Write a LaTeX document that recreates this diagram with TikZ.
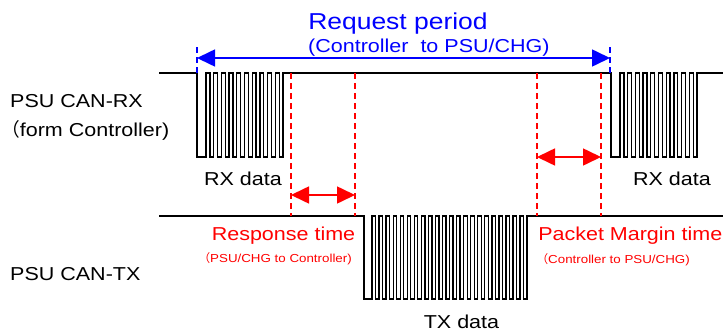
\documentclass[tikz,border=0pt]{standalone}
\usepackage{fontspec}
\setmainfont{Liberation Sans}[FakeStretch=1.15]
\newfontfamily\cjk{Noto Sans CJK SC}
\usetikzlibrary{arrows.meta}
\begin{document}
\begin{tikzpicture}[x=1pt,y=-1pt,
  wave/.style={line width=1.3pt, line join=miter},
  reddash/.style={red, line width=1.4pt, dash pattern=on 6pt off 4pt},
  bluedash/.style={blue, line width=1.6pt, dash pattern=on 6pt off 4pt},
  dimarrow/.style={line width=1.6pt, {Triangle[length=18pt,width=17pt]}-{Triangle[length=18pt,width=17pt]}},
  txt/.style={inner sep=0pt, font=\fontsize{18.7}{20}\selectfont},
  big/.style={inner sep=0pt, font=\fontsize{23}{25}\selectfont},
  small/.style={inner sep=0pt, font=\fontsize{11.6}{13}\selectfont}
]
\useasboundingbox (0,0) rectangle (723,332);
% waveforms
\draw[wave] (159,73) -- (197,73) -- (197,157) -- (206,157)
  \foreach \k in {0,...,9}{ -- ++(0,-84) -- ++(3.85,0) -- ++(0,84) -- ++(3.85,0)}
  -- ++(0,-84) -- (611,73) -- (611,157) -- (620,157)
  \foreach \k in {0,...,9}{ -- ++(0,-84) -- ++(3.85,0) -- ++(0,84) -- ++(3.85,0)}
  -- ++(0,-84) -- (724,73);
\draw[wave] (159,216) -- (364,216) -- (364,299) -- (372,299)
  \foreach \k in {0,...,21}{ -- ++(0,-83) -- ++(3.525,0) -- ++(0,83) -- ++(3.525,0)}
  -- ++(0,-83) -- (724,216);
% blue request period
\coordinate (b1t) at (197,47); \coordinate (b1b) at (197,73);
\coordinate (b2t) at (610,47); \coordinate (b2b) at (610,73);
\coordinate (b1a) at (197,58); \coordinate (b2a) at (610,58);
\draw[bluedash] (b1t) -- (b1b);
\draw[bluedash] (b2t) -- (b2b);
\draw[blue,dimarrow] (b1a) -- (b2a);
% red dashed
\coordinate (r1t) at (291,73); \coordinate (r1b) at (291,216);
\coordinate (r2t) at (355,73); \coordinate (r2b) at (355,216);
\coordinate (r3t) at (537,73); \coordinate (r3b) at (537,216);
\coordinate (r4t) at (601,73); \coordinate (r4b) at (601,216);
\draw[reddash] (r1t) -- (r1b);
\draw[reddash] (r2t) -- (r2b);
\draw[reddash] (r3t) -- (r3b);
\draw[reddash] (r4t) -- (r4b);
\coordinate (ra1) at (291,195); \coordinate (ra2) at (355,195);
\coordinate (pa1) at (537,157); \coordinate (pa2) at (601,157);
\draw[red,dimarrow] (ra1) -- (ra2);
\draw[red,dimarrow] (pa1) -- (pa2);
% texts
\node[big,blue,anchor=base] (title) at (398,29.3) {Request period};
\node[txt,blue,anchor=base west] (sub) at (308,52.7) {(Controller\ \ to PSU/CHG)};
\node[txt,anchor=base west] (rxl) at (10,107) {PSU CAN-RX};
\node[txt,anchor=base west] (rxl2) at (1,136) {{\cjk（}form Controller)};
\node[txt,anchor=base] (rxd1) at (243,185) {RX data};
\node[txt,anchor=base] (rxd2) at (672,185) {RX data};
\node[txt,red,anchor=base] (resp) at (283.5,240) {Response time};
\node[small,red,anchor=base east] (resp2) at (352,262) {{\cjk（}PSU/CHG to Controller)};
\node[txt,red,anchor=base east] (pack) at (722.5,240) {Packet Margin time};
\node[small,red,anchor=base east] (pack2) at (690,263) {{\cjk（}Controller to PSU/CHG)};
\node[txt,anchor=base west] (txl) at (10,280) {PSU CAN-TX};
\node[txt,anchor=base] (txd) at (461.5,328) {TX data};
\end{tikzpicture}
\end{document}
